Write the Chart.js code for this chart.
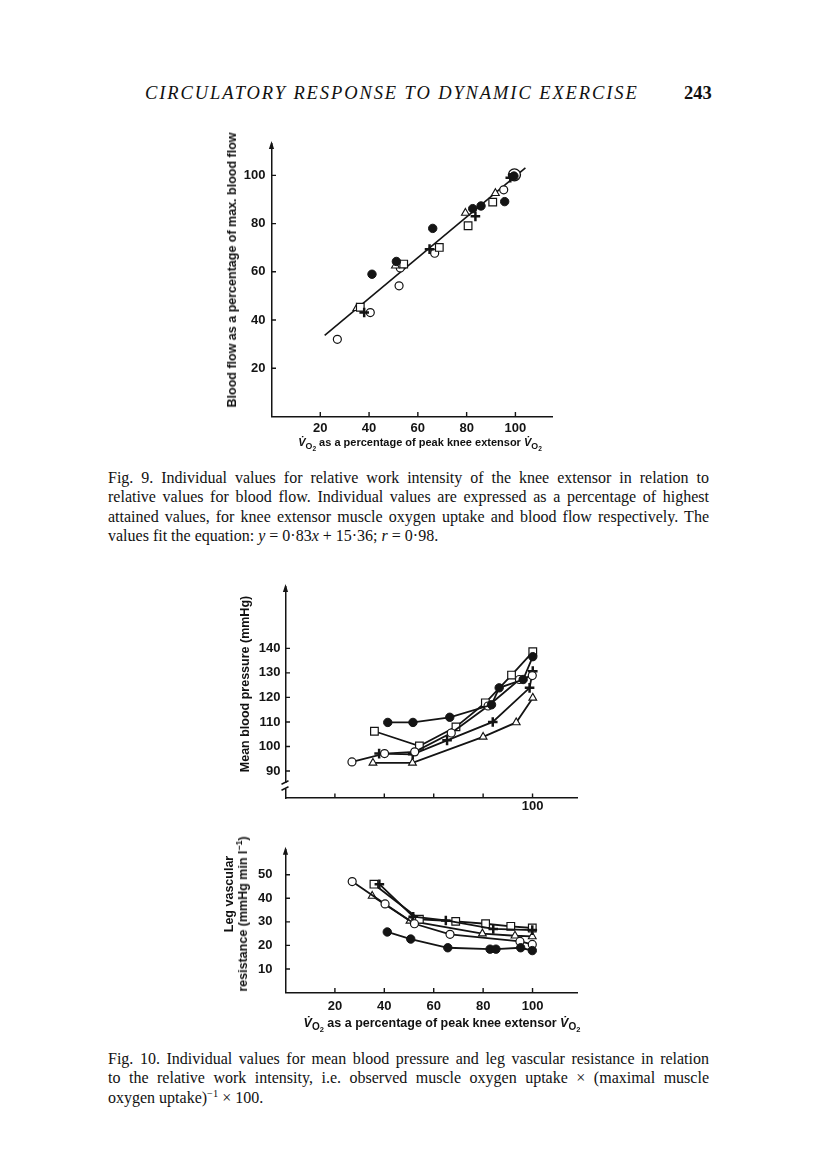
<!DOCTYPE html>
<html>
<head>
<meta charset="utf-8">
<script src="https://cdn.jsdelivr.net/npm/chart.js@4.4.1/dist/chart.umd.min.js"></script>
<style>
  html, body { margin: 0; padding: 0; background: #fff; }
  #page { position: relative; width: 816px; height: 1160px; overflow: hidden; color: #111; }
  .abs { position: absolute; }
  .runhead { left: 145px; top: 83px; font: italic 18.5px "Liberation Serif", serif; letter-spacing: 1.9px; white-space: nowrap; }
  .pageno { left: 684px; top: 83px; font: bold 18.5px "Liberation Serif", serif; }
  .cap { left: 108px; width: 601px; font: 16px/19.3px "Liberation Serif", serif; }
  .cap div { text-align: justify; text-align-last: justify; }
  .cap div.last { text-align-last: left; }
  .cap sup { line-height: 0; font-size: 65%; }
  .ax { font: bold 12.5px "Liberation Sans", Arial, sans-serif; white-space: nowrap; transform: translate(-50%, -50%); }
  .ax.rot { transform: translate(-50%, -50%) rotate(-90deg); }
  .ax sub { font-size: 80%; vertical-align: -3px; line-height: 0; }
  .ax sub span { font-size: 75%; vertical-align: -2px; }
  .ax sup { font-size: 70%; line-height: 0; }
  canvas { position: absolute; }
</style>
</head>
<body>
<div id="page">
  <div class="abs runhead">CIRCULATORY RESPONSE TO DYNAMIC EXERCISE</div>
  <div class="abs pageno">243</div>

  <canvas id="fig9" width="352" height="315" style="left:220px;top:130px"></canvas>
  <div class="abs ax rot" style="left:232px;top:270px">Blood flow as a percentage of max. blood flow</div>
  <div class="abs ax" style="left:420px;top:442px;font-size:11px"><i>V&#775;</i><sub>O<span>2</span></sub> as a percentage of peak knee extensor <i>V&#775;</i><sub>O<span>2</span></sub></div>

  <div class="abs cap" style="top:468px">
    <div>Fig. 9. Individual values for relative work intensity of the knee extensor in relation to</div>
    <div>relative values for blood flow. Individual values are expressed as a percentage of highest</div>
    <div>attained values, for knee extensor muscle oxygen uptake and blood flow respectively. The</div>
    <div class="last">values fit the equation: <i>y</i> = 0·83<i>x</i> + 15·36; <i>r</i> = 0·98.</div>
  </div>

  <canvas id="fig10a" width="357" height="253" style="left:240px;top:573px"></canvas>
  <div class="abs ax rot" style="left:245px;top:684px">Mean blood pressure (mmHg)</div>

  <canvas id="fig10b" width="357" height="192" style="left:240px;top:829px"></canvas>
  <div class="abs ax rot" style="left:229px;top:894px">Leg vascular</div>
  <div class="abs ax rot" style="left:243px;top:914px">resistance (mmHg min l<sup>−1</sup>)</div>
  <div class="abs ax" style="left:442px;top:1023px"><i>V&#775;</i><sub>O<span>2</span></sub> as a percentage of peak knee extensor <i>V&#775;</i><sub>O<span>2</span></sub></div>

  <div class="abs cap" style="top:1049px">
    <div>Fig. 10. Individual values for mean blood pressure and leg vascular resistance in relation</div>
    <div>to the relative work intensity, i.e. observed muscle oxygen uptake × (maximal muscle</div>
    <div class="last">oxygen uptake)<sup>−1</sup> × 100.</div>
  </div>
</div>

<script>
const ink = "#141414";

// Fig. 9: blood flow (% of max) vs knee extensor VO2 (% of peak)
const f9xTicks = [20, 40, 60, 80, 100];
const f9yTicks = [20, 40, 60, 80, 100];
const f9OpenX = [27.0, 40.5, 52.3, 52.8, 66.9, 95.2];
const f9OpenY = [32.0, 43.1, 54.2, 61.6, 67.7, 94.0];
const f9FilledX = [41.2, 51.2, 66.1, 82.5, 85.9, 95.6, 99.4];
const f9FilledY = [59.0, 64.3, 78.0, 86.2, 87.3, 89.1, 99.7];
const f9TriX = [35.0, 50.8, 79.5, 91.8];
const f9TriY = [44.9, 62.5, 84.4, 92.6];
const f9SquareX = [36.4, 54.2, 68.8, 80.6, 90.7];
const f9SquareY = [45.3, 63.2, 70.1, 79.1, 88.9];
const f9PlusX = [38.0, 64.8, 83.6, 97.9];
const f9PlusY = [43.1, 69.4, 83.0, 99.0];
const f9MaxX = [99.6];
const f9MaxY = [100.2];
const f9FitX = [21.8, 104.1];
const f9FitY = [33.6, 103.1];

// Fig. 10 upper: mean blood pressure (mmHg)
const f10aXTicks = [20, 40, 60, 80, 100];
const f10aXLabels = [100];
const f10aYTicks = [90, 100, 110, 120, 130, 140];
const f10aOpenX = [26.9, 40.1, 52.3, 67.1, 82.0, 94.7, 99.9];
const f10aOpenY = [93.7, 97.1, 97.8, 105.5, 116.5, 127.3, 128.9];
const f10aFilledX = [41.4, 51.6, 66.5, 83.4, 86.5, 96.2, 100.1];
const f10aFilledY = [109.8, 109.8, 111.9, 117.0, 123.9, 127.3, 136.6];
const f10aSquareX = [36.0, 54.2, 69.0, 80.9, 91.5, 100.1];
const f10aSquareY = [106.2, 100.2, 108.0, 117.8, 129.1, 138.6];
const f10aPlusX = [37.9, 51.5, 65.4, 83.9, 98.8, 100.1];
const f10aPlusY = [97.1, 96.8, 102.5, 110.0, 123.9, 130.7];
const f10aTriX = [35.4, 51.4, 80.0, 93.4, 100.1];
const f10aTriY = [93.3, 93.3, 103.9, 109.8, 119.8];

// Fig. 10 lower: leg vascular resistance (mmHg min l-1)
const f10bXTicks = [20, 40, 60, 80, 100];
const f10bYTicks = [10, 20, 30, 40, 50];
const f10bOpenX = [27.0, 40.3, 52.2, 66.6, 94.9, 99.9];
const f10bOpenY = [47.1, 37.6, 29.2, 24.7, 21.7, 20.4];
const f10bTriX = [35.1, 50.4, 79.7, 92.9, 99.9];
const f10bTriY = [41.0, 30.4, 25.0, 24.1, 23.8];
const f10bSquareX = [35.8, 54.2, 68.9, 81.0, 91.2, 99.9];
const f10bSquareY = [46.0, 31.1, 30.2, 29.2, 28.1, 27.4];
const f10bPlusX = [38.0, 51.7, 64.9, 84.1, 99.9];
const f10bPlusY = [46.0, 32.2, 30.6, 27.0, 26.5];
const f10bFilledX = [41.2, 50.7, 65.7, 82.8, 85.2, 95.2, 99.9];
const f10bFilledY = [25.7, 22.7, 19.0, 18.4, 18.4, 19.0, 17.8];

function pts(xs, ys) {
  return xs.map((x, i) => ({ x, y: ys[i] }));
}

const markers = {
  open: { style: "circle", r: 4, fill: "#fff", bw: 1.2 },
  filled: { style: "circle", r: 4.2, fill: ink, bw: 1 },
  square: { style: "rect", r: 5.4, fill: "#fff", bw: 1.2 },
  tri: { style: "triangle", r: 4.5, fill: "#fff", bw: 1.1 },
  plus: { style: "cross", r: 4.8, fill: ink, bw: 2.5 },
};

function series(data, m, withLine, order) {
  return {
    data,
    order,
    showLine: withLine,
    borderColor: ink,
    borderWidth: 1.8,
    tension: 0,
    pointStyle: m.style,
    pointRadius: m.r,
    pointHoverRadius: m.r,
    pointBackgroundColor: m.fill,
    pointBorderColor: ink,
    pointBorderWidth: m.bw,
  };
}

// inward tick marks, arrowhead on the y axis, optional axis break
const axisDecor = {
  id: "axisDecor",
  afterDraw(chart, args, opts) {
    const { ctx, chartArea: a, scales } = chart;
    const x = scales.x;
    const y = scales.y;
    ctx.save();
    ctx.strokeStyle = ink;
    ctx.fillStyle = ink;
    ctx.lineWidth = 1.4;
    ctx.beginPath();
    x.ticks.forEach((t) => {
      const px = x.getPixelForValue(t.value);
      ctx.moveTo(px, a.bottom);
      ctx.lineTo(px, a.bottom - 4.5);
    });
    y.ticks.forEach((t) => {
      const py = y.getPixelForValue(t.value);
      ctx.moveTo(a.left, py);
      ctx.lineTo(a.left + 4.5, py);
    });
    ctx.stroke();

    ctx.beginPath();
    ctx.moveTo(a.left, a.top - 3);
    ctx.lineTo(a.left - 2.6, a.top + 5);
    ctx.lineTo(a.left + 2.6, a.top + 5);
    ctx.closePath();
    ctx.fill();

    if (opts.breakAt != null) {
      const py = y.getPixelForValue(opts.breakAt);
      ctx.clearRect(a.left - 2, py - 3, 4, 6);
      ctx.lineWidth = 1.5;
      ctx.beginPath();
      ctx.moveTo(a.left - 4, py - 1.5);
      ctx.lineTo(a.left + 3, py - 5);
      ctx.moveTo(a.left - 4, py + 4.5);
      ctx.lineTo(a.left + 3, py + 1);
      ctx.stroke();
    }
    ctx.restore();
  },
};

function buildScales(c) {
  const font = { family: "Liberation Sans", size: 13, weight: "bold" };
  return {
    x: {
      type: "linear",
      min: 0,
      max: c.xMax,
      grid: { display: false, drawTicks: false },
      border: { color: ink, width: 1.5 },
      ticks: {
        color: ink,
        font,
        padding: c.xPad,
        maxRotation: 0,
        autoSkip: false,
        callback: (v) => (c.xLabels.includes(v) ? String(v) : ""),
      },
      afterBuildTicks: (s) => { s.ticks = c.xTicks.map((v) => ({ value: v })); },
      afterFit: (s) => { s.height = c.xH; },
    },
    y: {
      type: "linear",
      min: c.yMin,
      max: c.yMax,
      grid: { display: false, drawTicks: false },
      border: { color: ink, width: 1.5 },
      ticks: { color: ink, font, padding: c.yPad, autoSkip: false },
      afterBuildTicks: (s) => { s.ticks = c.yTicks.map((v) => ({ value: v })); },
      afterFit: (s) => { s.width = c.yW; },
    },
  };
}

function makeChart(id, datasets, c) {
  return new Chart(document.getElementById(id), {
    type: "scatter",
    data: { datasets },
    options: {
      responsive: false,
      animation: false,
      events: [],
      layout: { padding: { left: 0, top: c.padTop, right: c.padRight, bottom: 0 } },
      plugins: {
        legend: { display: false },
        tooltip: { enabled: false },
        axisDecor: { breakAt: c.breakAt },
      },
      scales: buildScales(c),
    },
    plugins: [axisDecor],
  });
}

makeChart("fig9", [
  series(pts(f9FilledX, f9FilledY), markers.filled, false, 1),
  series(pts(f9PlusX, f9PlusY), markers.plus, false, 2),
  series(pts(f9SquareX, f9SquareY), markers.square, false, 3),
  series(pts(f9TriX, f9TriY), markers.tri, false, 4),
  series(pts(f9OpenX, f9OpenY), markers.open, false, 5),
  series(pts(f9MaxX, f9MaxY), { style: "circle", r: 6, fill: "#fff", bw: 1.4 }, false, 6),
  Object.assign(series(pts(f9FitX, f9FitY), markers.open, true, 7), { pointRadius: 0, borderWidth: 1.6 }),
], {
  xMax: 115, yMin: 0, yMax: 113,
  xTicks: f9xTicks, xLabels: f9xTicks, yTicks: f9yTicks,
  xPad: 4, yPad: 6, xH: 28.5, yW: 51.5, padTop: 14, padRight: 20,
});

makeChart("fig10a", [
  series(pts(f10aFilledX, f10aFilledY), markers.filled, true, 1),
  series(pts(f10aOpenX, f10aOpenY), markers.open, true, 2),
  series(pts(f10aPlusX, f10aPlusY), markers.plus, true, 3),
  series(pts(f10aSquareX, f10aSquareY), markers.square, true, 4),
  series(pts(f10aTriX, f10aTriY), markers.tri, true, 5),
], {
  xMax: 118, yMin: 79, yMax: 165,
  xTicks: f10aXTicks, xLabels: f10aXLabels, yTicks: f10aYTicks,
  xPad: 1, yPad: 5, xH: 28, yW: 45.5, padTop: 14, padRight: 20, breakAt: 84,
});

makeChart("fig10b", [
  series(pts(f10bFilledX, f10bFilledY), markers.filled, true, 1),
  series(pts(f10bOpenX, f10bOpenY), markers.open, true, 2),
  series(pts(f10bPlusX, f10bPlusY), markers.plus, true, 3),
  series(pts(f10bSquareX, f10bSquareY), markers.square, true, 4),
  series(pts(f10bTriX, f10bTriY), markers.tri, true, 5),
], {
  xMax: 118, yMin: 0, yMax: 60.6,
  xTicks: f10bXTicks, xLabels: f10bXTicks, yTicks: f10bYTicks,
  xPad: 6, yPad: 13, xH: 28.5, yW: 45.5, padTop: 14.4, padRight: 20,
});
</script>
</body>
</html>
